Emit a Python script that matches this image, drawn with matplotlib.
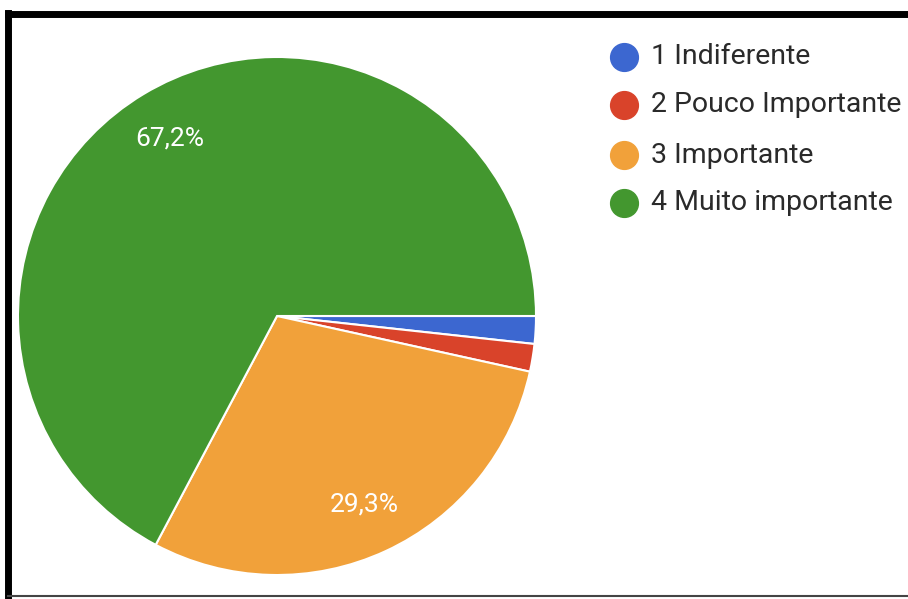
import matplotlib
matplotlib.use("Agg")
import matplotlib.pyplot as plt
from matplotlib.lines import Line2D

plt.rcParams['font.family'] = ['Roboto', 'DejaVu Sans']

categories = ["1 Indiferente", "2 Pouco Importante", "3 Importante", "4 Muito importante"]
counts = [1, 1, 17, 39]
colors = ["#3C67D0", "#D9432A", "#F1A13A", "#43972F"]

W, H = 908, 599
fig = plt.figure(figsize=(W / 100, H / 100), dpi=100)
fig.patch.set_facecolor("white")

ax = fig.add_axes([18 / W, 24 / H, 518 / W, 518 / H])


def pct_label(p):
    if p < 5:
        return ""
    return f"{p:.1f}%".replace(".", ",")


wedges, texts, autotexts = ax.pie(
    counts, colors=colors, startangle=0, counterclock=False,
    autopct=pct_label, pctdistance=0.8,
    wedgeprops=dict(edgecolor="white", linewidth=1.5),
    textprops=dict(color="white", fontsize=19),
)
ax.set_aspect("equal")
ax.set_xlim(-1, 1)
ax.set_ylim(-1, 1)

# legend entries
ys = [57, 105, 155, 203]
for name, col, y in zip(categories, colors, ys):
    fig.add_artist(Line2D([624 / W], [1 - y / H], marker="o", markersize=20,
                          color=col, markeredgecolor=col, transform=fig.transFigure))
    fig.text(651 / W, 1 - y / H, name, fontsize=20.5, color="#2a2a2a",
             va="center", ha="left")

# frame around the chart
fig.add_artist(Line2D([8 / W, 8 / W], [1 - 13 / H, 2 / H], color="black", lw=5,
                      transform=fig.transFigure, solid_capstyle="projecting"))
fig.add_artist(Line2D([8 / W, 1.0], [1 - 13.5 / H, 1 - 13.5 / H], color="black", lw=5,
                      transform=fig.transFigure, solid_capstyle="projecting"))
fig.add_artist(Line2D([8 / W, 1.0], [3 / H, 3 / H], color="#444444", lw=1.5,
                      transform=fig.transFigure))

fig.savefig("out.png", dpi=100, facecolor="white")
